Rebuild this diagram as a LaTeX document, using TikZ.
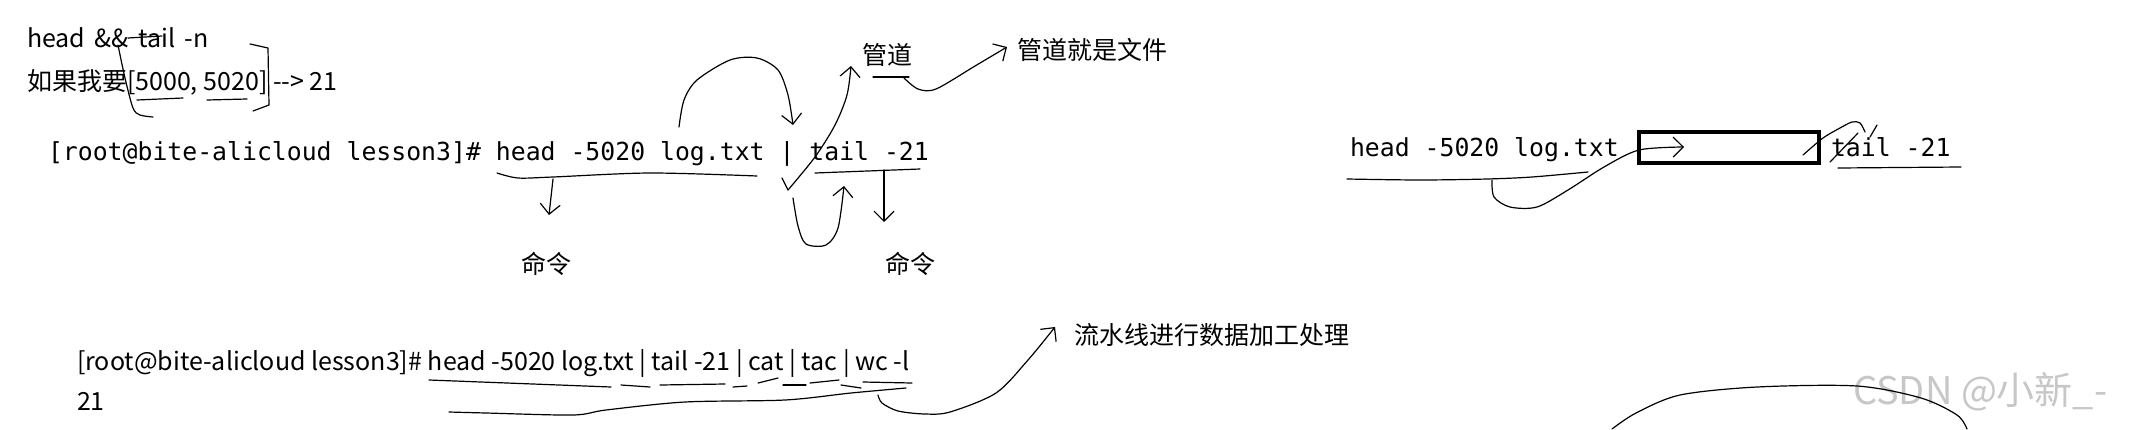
\documentclass[tikz,border=0pt]{standalone}
\usepackage{fontspec}
\usetikzlibrary{arrows.meta, positioning}
\newfontfamily\notefont{Noto Sans CJK SC}
\newfontfamily\shellfont{DejaVu Sans Mono}

\begin{document}
\begin{tikzpicture}[x=0.5pt, y=-0.5pt,
    every node/.style={inner sep=0pt, outer sep=0pt},
    note/.style={font=\notefont\fontsize{12.5}{14}\selectfont},
    shell/.style={font=\shellfont\fontsize{12.4}{14}\selectfont},
    wmark/.style={font=\notefont\fontsize{19}{21}\selectfont, text=black!22},
    pen/.style={line width=0.6pt, line cap=round, line join=round},
    penarrow/.style={pen, -{Straight Barb[length=5pt, width=10pt]}},
    pipebox/.style={line width=1.8pt}
]
\useasboundingbox[fill=white] (0,0) rectangle (2129,429);

% Notes at the top left
\node[note, anchor=base west] (range) at (27,47) {head\ \kern2pt\&\&\ \kern2pt tail\ \kern2pt-n};
\node[note, anchor=base west] (want) at (27,90) {如果我要[5000, 5020] -\kern0pt-> 21};

% First command line
\node[shell, anchor=base west] (cmd) at (48,160) {[root@bite-alicloud lesson3]\# head -5020 log.txt | tail -21};
\node[note] (cmdA) at (546,264) {命令};
\node[note] (cmdB) at (910,264) {命令};
\node[note] (pipe) at (887,55) {管道};
\node[note, anchor=west] (pipefile) at (1017,50) {管道就是文件};

% Pipe as a file, on the right
\node[shell, anchor=base west] (headR) at (1350,156) {head -5020 log.txt};
\node[shell, anchor=base west] (tailR) at (1831,156) {tail -21};
\draw[pipebox] (1639,132) rectangle (1819,163);

% Second command line
\node[note, anchor=base west] (cmdlong) at (77,370) {[root@bite-alicloud lesson3]\# head -5020 log.txt | tail -21 | cat | tac | wc -l};
\node[note, anchor=base west] (out) at (77,410) {21};
\node[note, anchor=west] (flow) at (1074,335) {流水线进行数据加工处理};
\node[wmark, anchor=west] (wm) at (1853,392) {CSDN @小新\_-};

% Bracket round the range
\draw[pen] (162,36) -- (128,38);
\draw[pen] plot[smooth] coordinates {(118,45) (125,78) (133,108) (140,115) (153,117)};
\draw[pen] (250,44) -- (268,48) -- (269,105) -- (253,111);
\draw[pen] (137,100) -- (183,98);
\draw[pen] (207,100) -- (247,99);

% Marks on the first command line
\draw[pen] plot[smooth] coordinates {(497,173) (518,178) (553,177) (650,173) (757,176)};
\draw[penarrow] (553,179) -- (549,215);
\draw[penarrow] plot[smooth] coordinates {(679,127) (684,100) (697,80) (730,60) (757,58) (778,70) (788,95) (793,125)};
\draw[pen] (782,178) -- (788,190);
\draw[penarrow] plot[smooth] coordinates {(788,190) (815,157) (835,125) (847,95) (851,66)};
\draw[penarrow] plot[smooth] coordinates {(793,198) (798,226) (806,244) (826,245) (838,228) (844,186)};
\draw[pen] (815,173) -- (920,169);
\draw[penarrow] (884,170) -- (884,222);
\draw[pen] (873,77) -- (909,77);
\draw[penarrow] plot[smooth] coordinates {(904,78) (918,89) (936,89) (975,66) (1007,47)};

% Marks round the pipe box
\draw[pen] plot[smooth] coordinates {(1347,179) (1420,180) (1487,179) (1532,177) (1588,172)};
\draw[penarrow] plot[smooth] coordinates {(1492,180) (1494,197) (1510,207) (1537,207) (1568,190) (1604,167) (1639,150) (1684,147)};
\draw[pen] plot[smooth] coordinates {(1803,155) (1823,138) (1840,128) (1852,122) (1860,123) (1865,132)};
\draw[pen] (1830,162) -- (1858,133);
\draw[pen] (1877,125) -- (1870,137);
\draw[pen] (1838,168) -- (1961,167);

% Marks on the second command line
\foreach \a/\b/\c/\d in {429/380/611/387, 621/385/650/387, 660/385/725/384, 733/387/747/386,
    758/383/778/378, 783/385/806/385, 810/383/839/380, 841/385/861/388, 863/382/912/383}
  \draw[pen] (\a,\b) -- (\c,\d);
\draw[pen] plot[smooth] coordinates {(449,412) (486,413) (573,415) (606,410) (685,402) (785,400) (851,393) (906,388)};
\draw[penarrow] plot[smooth] coordinates {(878,395) (882,403) (898,411) (925,414) (950,412) (996,393) (1028,360) (1055,327)};
\draw[pen] plot[smooth] coordinates {(1612,429) (1636,413) (1680,395) (1757,387) (1857,386) (1921,398) (1957,415) (1967,429)};
\end{tikzpicture}
\end{document}
